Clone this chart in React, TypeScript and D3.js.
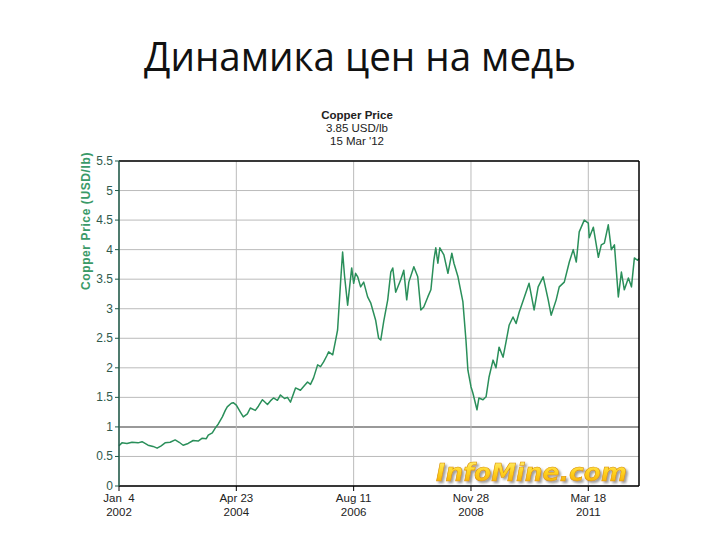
import React from "react";
import * as d3 from "d3";

const dates: string[] = [
  "2002-01-04","2002-01-25","2002-03-02","2002-04-07","2002-05-20","2002-06-18","2002-07-31","2002-09-05","2002-10-04","2002-11-02",
  "2002-11-30","2003-01-05","2003-02-10","2003-03-11","2003-04-08","2003-05-14","2003-06-19","2003-07-25","2003-08-23","2003-09-21",
  "2003-10-05","2003-11-03","2003-11-24","2003-12-16","2004-01-14","2004-02-04","2004-02-18","2004-03-18","2004-04-01","2004-04-23",
  "2004-05-22","2004-06-12","2004-07-11","2004-08-01","2004-09-06","2004-09-28","2004-10-27","2004-12-02","2004-12-23","2005-01-14",
  "2005-02-11","2005-03-05","2005-04-03","2005-04-24","2005-05-16","2005-06-21","2005-07-26","2005-08-24","2005-09-15","2005-10-06",
  "2005-10-28","2005-11-26","2005-12-17","2006-01-08","2006-01-30","2006-02-13","2006-03-14","2006-04-04","2006-04-18","2006-05-10",
  "2006-05-24","2006-06-07","2006-06-29","2006-07-28","2006-08-11","2006-08-25","2006-09-09","2006-09-30","2006-10-22","2006-11-19",
  "2006-12-11","2007-01-16","2007-02-06","2007-02-21","2007-03-14","2007-04-12","2007-05-04","2007-05-18","2007-06-08","2007-07-14",
  "2007-08-05","2007-08-26","2007-09-10","2007-10-16","2007-11-13","2007-12-05","2007-12-26","2008-01-24","2008-02-15","2008-03-07",
  "2008-03-21","2008-04-05","2008-04-19","2008-05-18","2008-06-16","2008-07-14","2008-07-29","2008-08-27","2008-09-10","2008-10-01",
  "2008-10-23","2008-11-06","2008-11-28","2008-12-12","2009-01-10","2009-01-24","2009-02-22","2009-03-16","2009-04-06","2009-05-05",
  "2009-05-26","2009-06-17","2009-07-16","2009-08-06","2009-08-28","2009-09-25","2009-10-17","2009-11-08","2009-12-13","2010-01-18",
  "2010-02-23","2010-03-24","2010-04-29","2010-06-04","2010-06-25","2010-07-31","2010-08-22","2010-09-27","2010-11-02","2010-11-30",
  "2010-12-22","2011-01-12","2011-02-17","2011-03-18","2011-03-25","2011-04-23","2011-05-29","2011-06-19","2011-07-11","2011-08-08",
  "2011-08-30","2011-09-21","2011-10-19","2011-11-10","2011-12-01","2011-12-30","2012-01-21","2012-02-11","2012-03-04","2012-03-15",
];

const prices: number[] = [
  0.68,0.73,0.72,0.74,0.73,0.75,0.69,0.67,0.64,0.68,
  0.73,0.74,0.78,0.74,0.69,0.72,0.77,0.76,0.81,0.80,
  0.86,0.90,0.98,1.05,1.17,1.28,1.34,1.40,1.41,1.37,
  1.25,1.17,1.22,1.32,1.28,1.35,1.46,1.38,1.44,1.49,
  1.45,1.54,1.48,1.50,1.42,1.66,1.62,1.70,1.76,1.72,
  1.83,2.05,2.02,2.10,2.20,2.27,2.22,2.47,2.64,3.47,
  3.96,3.55,3.06,3.69,3.43,3.60,3.54,3.37,3.45,3.20,
  3.10,2.80,2.50,2.47,2.78,3.15,3.62,3.69,3.28,3.49,
  3.65,3.15,3.45,3.71,3.54,2.98,3.03,3.20,3.32,3.82,
  4.03,3.77,4.03,3.91,3.60,3.94,3.77,3.54,3.37,3.12,
  2.47,1.96,1.68,1.57,1.29,1.49,1.46,1.51,1.84,2.13,
  2.00,2.35,2.18,2.44,2.72,2.86,2.75,2.94,3.18,3.43,
  2.98,3.37,3.54,3.15,2.89,3.15,3.37,3.45,3.79,4.00,
  3.79,4.30,4.50,4.45,4.20,4.38,3.87,4.08,4.11,4.42,
  4.00,4.08,3.20,3.62,3.32,3.52,3.37,3.86,3.82,3.85,
];

const xTickDates: string[] = ["2002-01-04", "2004-04-23", "2006-08-11", "2008-11-28", "2011-03-18"];
const xTickTop: string[] = ["Jan  4", "Apr 23", "Aug 11", "Nov 28", "Mar 18"];
const xTickBottom: string[] = ["2002", "2004", "2006", "2008", "2011"];
const yTicks: number[] = [0, 0.5, 1, 1.5, 2, 2.5, 3, 3.5, 4, 4.5, 5, 5.5];

const titleText = "Динамика цен на медь";
const headerLines: string[] = ["Copper Price", "3.85 USD/lb", "15 Mar '12"];
const yAxisTitle = "Copper Price (USD/lb)";
const watermark = "InfoMine.com";

const parse = d3.timeParse("%Y-%m-%d");

export default function App() {
  const W = 720, H = 540;
  const L = 119, R = 639, T = 161, B = 486;
  const x = d3.scaleTime().domain([parse("2002-01-04")!, parse("2012-03-15")!]).range([L, R]);
  const y = d3.scaleLinear().domain([0, 5.5]).range([B, T]);
  const data = dates.map((d, i) => ({ date: parse(d)!, v: prices[i] }));
  const line = d3.line<{ date: Date; v: number }>().x(d => x(d.date)).y(d => y(d.v));
  const font = "'Liberation Sans', Arial, sans-serif";
  return (
    <svg width={W} height={H} viewBox={`0 0 ${W} ${H}`} style={{ position: "absolute", left: 0, top: 0, background: "#fff" }}>
      <defs>
        <linearGradient id="wm" x1="0" y1="0" x2="0" y2="1">
          <stop offset="0" stopColor="#fff27a" />
          <stop offset="0.5" stopColor="#ffd21e" />
          <stop offset="1" stopColor="#f0a000" />
        </linearGradient>
        <filter id="wmShadow" x="-5%" y="-20%" width="110%" height="150%">
          <feDropShadow dx="2" dy="2" stdDeviation="0.8" floodColor="#777" floodOpacity="0.7" />
        </filter>
      </defs>
      <text x={360} y={71} textAnchor="middle" fontFamily="'Open Sans', 'Noto Sans', sans-serif" fontSize={40}
        textLength={432} lengthAdjust="spacingAndGlyphs" fill="#111">{titleText}</text>
      {headerLines.map((t, i) => (
        <text key={i} x={357} y={119 + i * 13} textAnchor="middle" fontFamily={font} fontSize={11.5}
          fontWeight={i === 0 ? "bold" : "normal"} fill="#222">{t}</text>
      ))}
      {/* grid */}
      {yTicks.map((t, i) => (
        <line key={"gy" + i} x1={L} x2={R} y1={y(t)} y2={y(t)}
          stroke={t === 1 ? "#999" : "#bbb"} strokeWidth={t === 1 ? 2 : 1} />
      ))}
      {xTickDates.map((d, i) => (
        <line key={"gx" + i} x1={x(parse(d)!)} x2={x(parse(d)!)} y1={T} y2={B} stroke="#bbb" strokeWidth={1} />
      ))}
      {/* watermark */}
      <text x={627} y={481} textAnchor="end" fontFamily="'DejaVu Sans', sans-serif" fontWeight="bold" fontStyle="italic"
        fontSize={25} fill="url(#wm)" stroke="#d89000" strokeWidth={0.6} filter="url(#wmShadow)">{watermark}</text>
      {/* line */}
      <path d={line(data) || ""} fill="none" stroke="#2a8f5a" strokeWidth={1.5} strokeLinejoin="round" />
      {/* borders */}
      <line x1={L} x2={R} y1={T} y2={T} stroke="#000" strokeWidth={1.5} />
      <line x1={R} x2={R} y1={T} y2={B} stroke="#000" strokeWidth={1.5} />
      <line x1={L} x2={R} y1={B} y2={B} stroke="#000" strokeWidth={1.5} />
      <line x1={L} x2={L} y1={T} y2={B} stroke="#1f5a48" strokeWidth={1.5} />
      {/* y ticks */}
      {yTicks.map((t, i) => (
        <g key={"yt" + i}>
          <line x1={L - 4} x2={L} y1={y(t)} y2={y(t)} stroke="#1f5a48" />
          <text x={113} y={y(t) + 4} textAnchor="end" fontFamily={font} fontSize={12} fill="#2f5a4c">{d3.format("")(t)}</text>
        </g>
      ))}
      {/* x ticks */}
      {xTickDates.map((d, i) => (
        <g key={"xt" + i}>
          <line x1={x(parse(d)!)} x2={x(parse(d)!)} y1={B} y2={B + 5} stroke="#000" />
          <text x={x(parse(d)!)} y={502} textAnchor="middle" fontFamily={font} fontSize={11.5} fill="#222" style={{ whiteSpace: "pre" }}>{xTickTop[i]}</text>
          <text x={x(parse(d)!)} y={516} textAnchor="middle" fontFamily={font} fontSize={11.5} fill="#222">{xTickBottom[i]}</text>
        </g>
      ))}
      <text transform={`translate(90,221) rotate(-90)`} textAnchor="middle" fontFamily={font} fontSize={12}
        fontWeight="bold" letterSpacing={0.6} fill="#3a9a68">{yAxisTitle}</text>
    </svg>
  );
}
